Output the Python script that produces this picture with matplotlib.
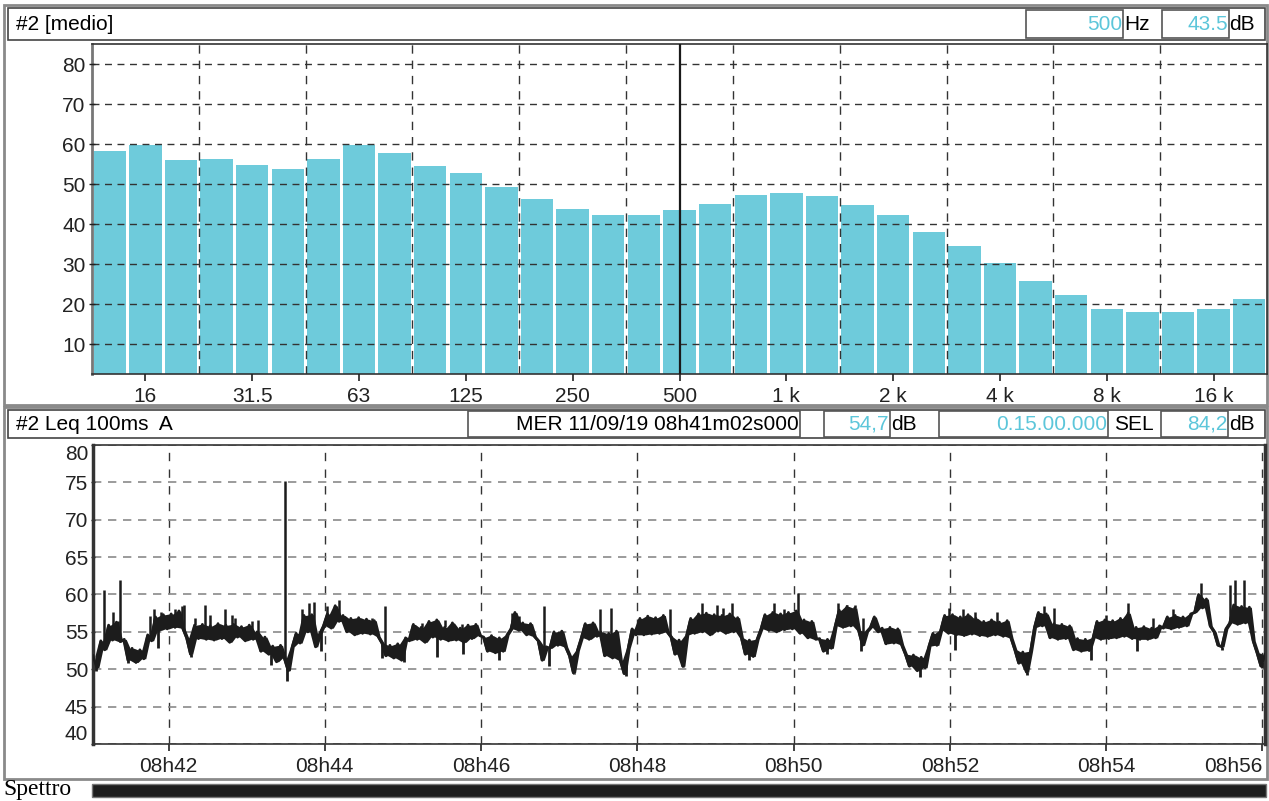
import numpy as np
import matplotlib.pyplot as plt
from matplotlib.patches import Rectangle

W, H = 1269, 801
plt.rcParams['font.family'] = ['Liberation Sans', 'DejaVu Sans']

# spettro medio a 1/3 d'ottava, 12.5 Hz .. 20 kHz (dB)
bande = ['12.5', '16', '20', '25', '31.5', '40', '50', '63', '80', '100', '125',
         '160', '200', '250', '315', '400', '500', '630', '800', '1k', '1.25k',
         '1.6k', '2k', '2.5k', '3.15k', '4k', '5k', '6.3k', '8k', '10k',
         '12.5k', '16k', '20k']
livelli = [58.3, 59.7, 56.1, 56.3, 54.8, 53.8, 56.3, 59.8, 57.7, 54.6, 52.7,
           49.3, 46.3, 43.8, 42.3, 42.3, 43.5, 45.1, 47.3, 47.8, 47.1,
           44.8, 42.3, 38.1, 34.6, 30.3, 25.8, 22.3, 18.8, 18.1,
           18.1, 18.8, 21.3]
etich_freq = ['16', '31.5', '63', '125', '250', '500', '1 k', '2 k', '4 k', '8 k', '16 k']
cursore = '500'

# Leq 100ms A, letto ogni 3 s da 08h41m02s (dB)
leq = [
    51.8, 50.2, 53.8, 52.6, 55.9, 53.9, 56.3, 53.7, 54.0, 51.2,
    52.8, 50.9, 52.6, 51.4, 54.6, 53.8, 57.0, 55.2, 57.3, 55.4,
    57.4, 55.6, 57.8, 55.5, 54.2, 52.0, 55.9, 54.1, 56.0, 54.0,
    55.8, 53.9, 56.1, 54.1, 55.9, 53.6, 56.0, 54.3, 55.7, 53.8,
    55.9, 54.0, 55.0, 52.4, 54.3, 52.0, 53.1, 51.0, 53.2, 51.5,
    49.8, 53.0, 54.8, 53.5, 57.2, 55.0, 57.3, 53.0, 54.7, 55.8,
    57.4, 55.5, 58.5, 56.4, 57.2, 55.0, 56.8, 54.6, 56.9, 54.8,
    56.7, 54.7, 56.5, 54.4, 53.5, 51.8, 53.2, 51.5, 53.4, 51.2,
    54.2, 53.8, 56.0, 54.0, 55.6, 53.6, 56.4, 54.3, 56.6, 54.0,
    55.6, 53.8, 56.2, 53.9, 55.5, 53.6, 55.9, 54.1, 56.0, 54.5,
    54.3, 52.4, 54.5, 52.2, 54.2, 52.4, 54.6, 55.4, 57.6, 55.2,
    56.2, 54.6, 56.1, 54.4, 53.8, 51.2, 53.0, 52.8, 55.0, 53.2,
    55.1, 53.0, 51.8, 49.5, 52.5, 54.2, 56.1, 54.0, 56.2, 54.4,
    55.0, 51.8, 54.8, 51.5, 55.1, 51.2, 49.4, 52.8, 55.4, 54.6,
    56.8, 54.6, 57.1, 54.7, 56.9, 54.8, 57.2, 55.0, 54.3, 52.0,
    53.9, 50.4, 54.6, 56.8, 54.8, 57.4, 55.0, 57.5, 54.6, 57.3,
    55.1, 57.2, 54.8, 57.4, 55.0, 56.9, 54.2, 52.0, 53.9, 51.7,
    54.0, 55.4, 57.3, 55.2, 57.6, 55.0, 57.4, 55.3, 57.6, 55.4,
    57.8, 54.8, 56.6, 54.2, 56.4, 54.0, 54.1, 52.4, 54.0, 52.8,
    55.8, 57.9, 55.6, 58.4, 55.8, 58.2, 55.2, 53.2, 55.0, 55.6,
    57.0, 55.0, 55.5, 53.4, 55.6, 53.5, 55.4, 53.3, 52.0, 50.4,
    51.9, 49.8, 51.6, 50.2, 53.1, 54.8, 53.2, 55.2, 57.2, 54.8,
    57.3, 54.6, 57.0, 54.5, 57.3, 54.7, 56.8, 54.5, 56.4, 54.4,
    56.6, 54.6, 56.3, 54.4, 56.5, 54.2, 52.6, 50.8, 52.3, 49.6,
    52.4, 55.6, 57.6, 55.8, 57.4, 54.2, 56.1, 54.0, 56.0, 54.1,
    55.8, 52.6, 54.1, 52.4, 54.0, 52.5, 54.2, 56.4, 54.0, 56.6,
    54.1, 56.5, 54.2, 56.8, 54.4, 57.5, 54.1, 55.6, 54.0, 55.7,
    54.0, 55.5, 54.2, 55.8, 55.5, 57.0, 55.4, 57.2, 55.6, 57.0,
    55.8, 57.4, 57.6, 60.0, 58.2, 59.4, 55.8, 55.0, 53.2, 53.0,
    55.4, 56.2, 58.6, 56.0, 58.4, 56.2, 58.3, 53.8, 52.2, 50.4,
    52.0,
]
passo = 3
# picchi isolati verso l'alto (s, dB)
picchi_t = [8.8, 13, 15.6, 19, 21, 44, 47, 52, 63, 68, 70, 78, 86, 90, 101, 107,
            109, 122, 127, 147.8, 160.5, 166, 169.5, 180, 189, 214, 224.6, 253,
            270, 283.6, 322, 327, 346, 358, 389, 398, 443, 468, 479, 484, 491,
            523, 531, 541.4, 572, 579, 585, 591, 657, 668, 677, 694, 730, 738,
            778, 795, 814, 829, 851, 873, 877, 884]
picchi_db = [60.6, 55.7, 57.7, 56.4, 62.0, 57.1, 58.0, 57.7, 58.0, 58.4, 58.6, 56.8,
             58.6, 57.3, 58.0, 57.2, 56.8, 56.4, 56.6, 75.2, 58.0, 58.9, 59.0, 58.4,
             59.3, 56.8, 58.4, 56.2, 56.6, 56.0, 57.5, 57.1, 58.4, 55.0, 58.0, 58.2,
             58.0, 58.8, 58.6, 58.2, 58.8, 58.8, 58.0, 60.2, 58.8, 58.6, 58.6, 56.8,
             58.2, 58.0, 57.7, 57.7, 58.4, 58.2, 57.3, 58.9, 56.8, 58.0, 61.5, 61.3,
             62.0, 62.0]
# picchi verso il basso (s, dB)
minimi_t = [2, 27, 50, 75, 137, 149, 175, 222, 239, 264, 284, 312, 350, 369, 409,
            453, 504, 564, 590, 635, 662, 717, 766, 802, 867, 898]
minimi_db = [49.8, 50.8, 52.8, 51.7, 50.6, 48.4, 52.4, 51.5, 51.0, 51.7, 52.0, 51.3,
             50.4, 49.3, 49.1, 50.3, 51.3, 52.0, 52.4, 48.9, 52.6, 49.2, 51.3, 52.4,
             52.6, 50.2]
ore_tick = [58 + 120 * k for k in range(8)]
ore_etich = ['08h42', '08h44', '08h46', '08h48', '08h50', '08h52', '08h54', '08h56']

azzurro = '#6ecbdb'
testo_az = '#5cc6da'
nero = '#1c1c1c'

fig = plt.figure(figsize=(W / 100, H / 100), dpi=100)

# fondo con cornici e intestazioni, in pixel
bg = fig.add_axes([0, 0, 1, 1], zorder=-1)
bg.set_xlim(0, W)
bg.set_ylim(H, 0)
bg.axis('off')

def box(x0, y0, x1, y1, ec='#555555', lw=1.2, fc='none'):
    bg.add_patch(Rectangle((x0, y0), x1 - x0, y1 - y0, fill=(fc != 'none'),
                           facecolor=fc, edgecolor=ec, lw=lw))

def txt(x, y, s, ha='left', color='black', fs=15, **kw):
    bg.text(x, y, s, ha=ha, va='center', color=color, fontsize=fs, **kw)

# pannello spettro
box(4, 5, 1267, 405, ec='#8a8a8a', lw=2)
box(8, 8, 1265, 40, ec='#444444', lw=1.2)
txt(16, 25, '#2 [medio]')
box(1026, 10, 1123, 38, ec='#555555')
txt(1122, 25, '500', ha='right', color=testo_az)
txt(1124, 25, 'Hz')
box(1162, 10, 1229, 38, ec='#555555')
txt(1228, 25, '43.5', ha='right', color=testo_az)
txt(1229, 25, 'dB')

# pannello livello
box(4, 407, 1267, 779, ec='#8a8a8a', lw=2)
box(8, 410, 1265, 438, ec='#444444', lw=1.2)
txt(16, 424, '#2 Leq 100ms  A')
box(468, 411, 800, 437)
txt(799, 424, 'MER 11/09/19 08h41m02s000', ha='right')
box(824, 411, 890, 437)
txt(889, 424, '54,7', ha='right', color=testo_az)
txt(891, 424, 'dB')
box(939, 411, 1108, 437)
txt(1107, 424, '0.15.00.000', ha='right', color=testo_az)
txt(1114, 424, 'SEL')
box(1161, 411, 1228, 437)
txt(1227, 424, '84,2', ha='right', color=testo_az)
txt(1229, 424, 'dB')

txt(3, 790, 'Spettro', fs=17, family=['Liberation Serif', 'DejaVu Serif'])
box(92, 784, 1266, 797, ec='#777777', lw=1, fc='#1e1e1e')


def ax_px(x0, y0, x1, y1):
    return fig.add_axes([x0 / W, 1 - y1 / H, (x1 - x0) / W, (y1 - y0) / H])


# --- spettro ---
ax1 = ax_px(92, 44, 1267, 374)
ind = np.arange(len(bande))
ax1.bar(ind, livelli, 0.91, color=azzurro, zorder=1)
ax1.set_xlim(-0.5, len(bande) - 0.5)
ax1.set_ylim(2.5, 85)
ax1.set_yticks(range(10, 90, 10))
ax1.set_xticks(ind[1::3])
ax1.set_xticklabels(etich_freq)
ax1.set_xticks(ind[2:-1:3] + 0.5, minor=True)
ax1.set_axisbelow(False)
ax1.grid(True, axis='y', which='major', ls=(0, (5, 4)), color='#333333', lw=1)
ax1.grid(True, axis='x', which='minor', ls=(0, (6, 5)), color='#333333', lw=1)
ax1.axvline(bande.index(cursore), color='#1a1a1a', lw=1.6, zorder=4)
ax1.tick_params(axis='both', labelsize=15, colors='#222222')
ax1.tick_params(axis='x', which='major', length=5, width=1.2, pad=4)
ax1.tick_params(axis='x', which='minor', length=0)
ax1.tick_params(axis='y', length=5, width=1, direction='inout', pad=2)
for s in ax1.spines.values():
    s.set_color('#333333')
    s.set_linewidth(1.2)
ax1.spines['left'].set_color('#777777')
ax1.spines['left'].set_linewidth(2)

# --- livello nel tempo ---
ax2 = ax_px(93, 445, 1265, 744)
t = np.arange(len(leq)) * passo
y = np.array(leq)
# banda piena tra campioni vicini
tm = (t[:-1] + t[1:]) / 2
ax2.fill_between(tm, np.minimum(y[:-1], y[1:]), np.maximum(y[:-1], y[1:]),
                 color=nero, lw=0, zorder=3)
ax2.plot(t, y, color=nero, lw=2.0, zorder=3)
base_p = np.interp(picchi_t, t, y)
ax2.vlines(picchi_t, base_p, picchi_db, color=nero, lw=1.8, zorder=3)
base_m = np.interp(minimi_t, t, y)
ax2.vlines(minimi_t, minimi_db, base_m, color=nero, lw=2.0, zorder=3)
ax2.set_xlim(0, 900)
ax2.set_ylim(40, 80)
ax2.set_yticks(range(40, 85, 5))
ax2.set_xticks(ore_tick)
ax2.set_xticklabels(ore_etich)
ax2.set_axisbelow(True)
ax2.grid(True, axis='y', ls=(0, (5, 4)), color='#8a8a8a', lw=1.2)
ax2.grid(True, axis='x', ls=(0, (6, 6)), color='#333333', lw=1)
ax2.tick_params(axis='both', labelsize=15, colors='#222222')
ax2.tick_params(axis='x', length=5, width=1.2, pad=4)
ax2.tick_params(axis='y', length=3, width=1, direction='inout', pad=2)
for s in ax2.spines.values():
    s.set_color('#333333')
    s.set_linewidth(1.2)
ax2.spines['left'].set_linewidth(2.5)
ax2.spines['right'].set_linewidth(2.5)
ylab = ax2.get_yticklabels()
ylab[0].set_verticalalignment('bottom')
ylab[-1].set_verticalalignment('top')
xlab = ax2.get_xticklabels()
xlab[-1].set_horizontalalignment('right')
xlab[-1].set_x(ore_tick[-1] + 3)

fig.savefig('out.png', dpi=100)
